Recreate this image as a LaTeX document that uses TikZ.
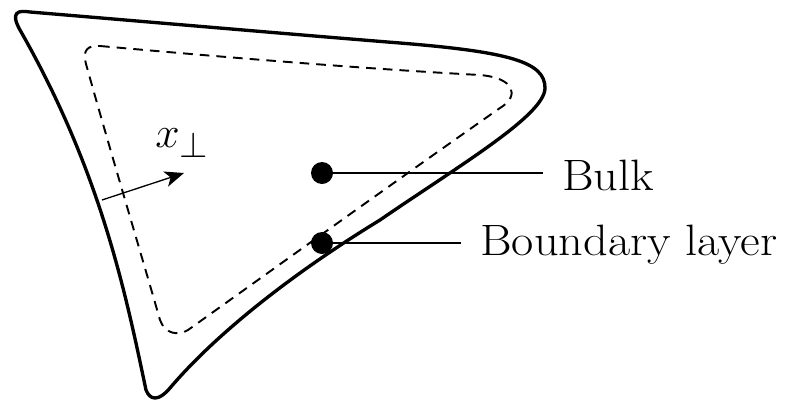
\documentclass[tikz,border=0pt]{standalone}
\usetikzlibrary{arrows.meta}
\begin{document}
\begin{tikzpicture}[x=0.02cm,y=-0.02cm,
  outerline/.style={line width=1.9pt, line join=round},
  innerline/.style={line width=1.1pt, dash pattern=on 5.5pt off 4pt},
  dotmark/.style={circle, fill=black, inner sep=0pt, minimum size=0.44cm},
  leader/.style={line width=0.75pt},
  lbl/.style={font=\fontsize{25}{30}\selectfont, inner sep=0pt, anchor=base west, xscale=1.1}]
\useasboundingbox (0,0) rectangle (786,403);
% outer boundary
\draw[outerline] (30,12) .. controls (150,22) and (300,35) .. (400,43)
  .. controls (510,52) and (545,62) .. (545,88)
  .. controls (545,115) and (460,165) .. (380,220)
  .. controls (290,275) and (215,335) .. (170,388)
  .. controls (158,402) and (150,400) .. (146,390)
  .. controls (125,290) and (100,170) .. (20,30)
  .. controls (10,12) and (18,10) .. cycle;
% inner dashed boundary
\draw[innerline] (100,46) .. controls (200,55) and (350,68) .. (480,75)
  .. controls (515,78) and (520,96) .. (500,108)
  .. controls (400,178) and (300,250) .. (188,330)
  .. controls (178,336) and (165,334) .. (160,320)
  .. controls (140,250) and (110,150) .. (86,64)
  .. controls (82,50) and (88,45) .. cycle;
% arrow x_perp
\coordinate (a0) at (102,200);
\coordinate (a1) at (184,173);
\draw[leader, -{Stealth[length=11pt,width=9pt,inset=3pt]}] (a0) -- (a1);
\node[lbl, font=\fontsize{29}{34}\selectfont, xscale=1/1.1] (xp) at (155,147) {$x_\perp$};
% dots and labels
\node[dotmark] (bulk) at (322,173) {};
\node[dotmark] (bnd) at (322,243) {};
\node[lbl] (bulkl) at (562,190) {Bulk};
\node[lbl] (bndl) at (480,255) {Boundary layer};
\coordinate (e1) at (543,173);
\coordinate (e2) at (461,243);
\draw[leader] (bulk.center) -- (e1);
\draw[leader] (bnd.center) -- (e2);
\end{tikzpicture}
\end{document}
